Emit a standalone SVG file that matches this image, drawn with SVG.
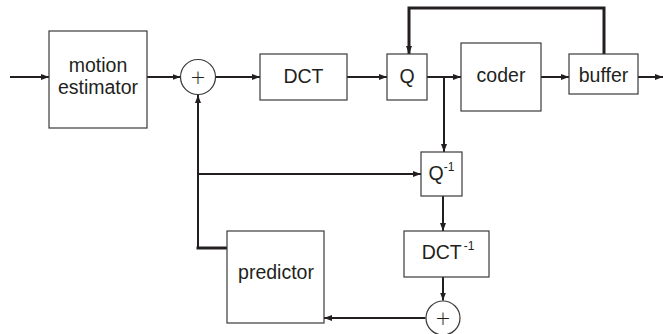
<svg xmlns="http://www.w3.org/2000/svg" width="663" height="334" viewBox="0 0 663 334">
<style>
.box{fill:#fff;stroke:#3a3a3a;stroke-width:1.2}
.lbl{font-family:"Liberation Sans",Arial,sans-serif;font-size:19.5px;fill:#231f20;text-anchor:middle}
.sup{font-size:12px}
.plus{font-family:"DejaVu Sans","Liberation Sans",sans-serif;font-size:19px;font-weight:200;fill:#231f20;text-anchor:middle}
.ln{fill:none;stroke:#231f20;stroke-width:2}
.thick{stroke-width:3}
</style>
<defs>
<marker id="ah" markerUnits="userSpaceOnUse" markerWidth="9" markerHeight="7" refX="8" refY="3.5" orient="auto">
<path d="M0,0.5 L8,3.5 L0,6.5 z" fill="#231f20"/>
</marker>
</defs>
<rect width="663" height="334" fill="#fff"/>
<g id="connectors">
<path class="ln" d="M10,77 H49" marker-end="url(#ah)"/>
<path class="ln" d="M147,77 H180.5" marker-end="url(#ah)"/>
<path class="ln" d="M215.5,77 H260" marker-end="url(#ah)"/>
<path class="ln" d="M347,77 H387" marker-end="url(#ah)"/>
<path class="ln" d="M427,77 H461" marker-end="url(#ah)"/>
<path class="ln" d="M541,77 H569" marker-end="url(#ah)"/>
<path class="ln" d="M638,77 H663" marker-end="url(#ah)"/>
<path class="ln thick" d="M604,54 V8 H409 V54" marker-end="url(#ah)"/>
<path class="ln" d="M444,77 V152" marker-end="url(#ah)"/>
<path class="ln" d="M198,248 V95" marker-end="url(#ah)"/>
<path class="ln" d="M198,174 H421" marker-end="url(#ah)"/>
<path class="ln thick" d="M196.5,248 H227"/>
<path class="ln" d="M443,196 V231" marker-end="url(#ah)"/>
<path class="ln" d="M443,277 V300.5" marker-end="url(#ah)"/>
<path class="ln" d="M425.5,318 H324" marker-end="url(#ah)"/>
</g>
<g id="motion_estimator">
<rect class="box" x="49" y="31" width="98" height="97"/>
<text class="lbl" x="98" y="72">motion</text>
<text class="lbl" x="98" y="94">estimator</text>
</g>
<g id="sum1">
<circle class="box" cx="198" cy="77" r="17.5"/>
<text class="plus" x="198" y="83.5">+</text>
</g>
<g id="dct">
<rect class="box" x="260" y="54" width="87" height="46"/>
<text class="lbl" x="303.5" y="82.5">DCT</text>
</g>
<g id="q">
<rect class="box" x="387" y="54" width="40" height="46"/>
<text class="lbl" x="407" y="82.5">Q</text>
</g>
<g id="coder">
<rect class="box" x="461" y="43" width="80" height="68"/>
<text class="lbl" x="501" y="81.5">coder</text>
</g>
<g id="buffer">
<rect class="box" x="569" y="54" width="69" height="40"/>
<text class="lbl" x="603.5" y="81.5">buffer</text>
</g>
<g id="q_inv">
<rect class="box" x="421" y="152" width="41" height="44"/>
<text class="lbl" x="441.5" y="180">Q<tspan class="sup" dy="-9">-1</tspan></text>
</g>
<g id="dct_inv">
<rect class="box" x="404" y="231" width="85" height="46"/>
<text class="lbl" x="448" y="259">DCT<tspan class="sup" dx="2" dy="-9">-1</tspan></text>
</g>
<g id="sum2">
<circle class="box" cx="443" cy="318" r="17"/>
<text class="plus" x="443" y="324.5">+</text>
</g>
<g id="predictor">
<rect class="box" x="227" y="231" width="97" height="92"/>
<text class="lbl" x="276" y="279">predictor</text>
</g>
</svg>
